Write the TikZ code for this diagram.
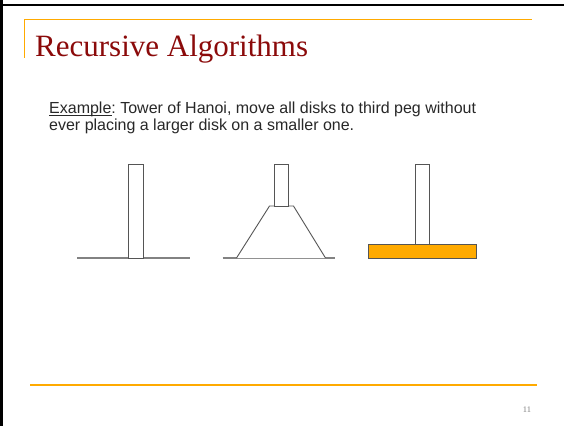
\documentclass[tikz,border=0pt]{standalone}
\usepackage{fontspec}
\setmainfont{Liberation Serif}
\newfontfamily\bodyfont{Liberation Sans}
\frenchspacing
\definecolor{accent}{RGB}{255,170,0}
\definecolor{titlered}{RGB}{139,10,10}
\definecolor{bodygray}{RGB}{40,40,40}
\definecolor{pegline}{RGB}{85,85,85}
\definecolor{baseline}{RGB}{130,130,130}
\begin{document}
\begin{tikzpicture}[x=1pt,y=-1pt,
  rule/.style={draw=accent,line width=1.5pt},
  pegbox/.style={draw=pegline,line width=0.9pt,fill=white},
  ground/.style={draw=baseline,line width=1.2pt},
  disk/.style={draw=pegline,line width=0.9pt,fill=accent},
  bodytext/.style={anchor=base west,inner sep=0pt,text=bodygray,font=\bodyfont\fontsize{16}{18}\selectfont\frenchspacing}]
\useasboundingbox (0,0) rectangle (564,426);
\fill[white] (0,0) rectangle (564,426);
% frame
\draw[black,line width=2.2pt] (0,5) -- (564,5);
\draw[black,line width=3pt] (1.5,0) -- (1.5,426);
% top rules
\draw[rule,line width=1.2pt] (24,19.5) -- (532,19.5);
\draw[rule,line width=1.2pt] (24.5,19.5) -- (24.5,58);
% title
\node[anchor=base west,inner sep=0pt,text=titlered,font=\fontsize{31}{34}\selectfont] (title) at (35,56) {Recursive Algorithms};
% body
\node[bodytext] (line1) at (49,113) {Example: Tower of Hanoi, move all disks to third peg without};
\node[bodytext] (example) at (49,113) {\phantom{Example}};
\draw[bodygray,line width=0.8pt] ([yshift=-2pt]example.base west) -- ([yshift=-2pt]example.base east);
\node[bodytext] (line2) at (49,130) {ever placing a larger disk on a smaller one.};
% peg 1
\draw[ground] (77,258) -- (190,258);
\draw[pegbox] (128.5,164) rectangle (143.5,258);
% peg 2
\draw[ground] (222.5,258) -- (335,258);
\draw[pegbox] (236.5,258) -- (269.5,206) -- (293.5,206) -- (325.5,258);
\draw[pegbox] (274,164) rectangle (288.5,206);
% peg 3
\draw[pegbox] (415,164) rectangle (429.5,244);
\draw[disk] (368,244) rectangle (476,258);
% footer
\draw[rule,line width=2pt] (30,384.5) -- (537,384.5);
\node[anchor=center,inner sep=0pt,text=gray,font=\fontsize{8.5}{9}\selectfont] (pagenum) at (527,410) {11};
\end{tikzpicture}
\end{document}
